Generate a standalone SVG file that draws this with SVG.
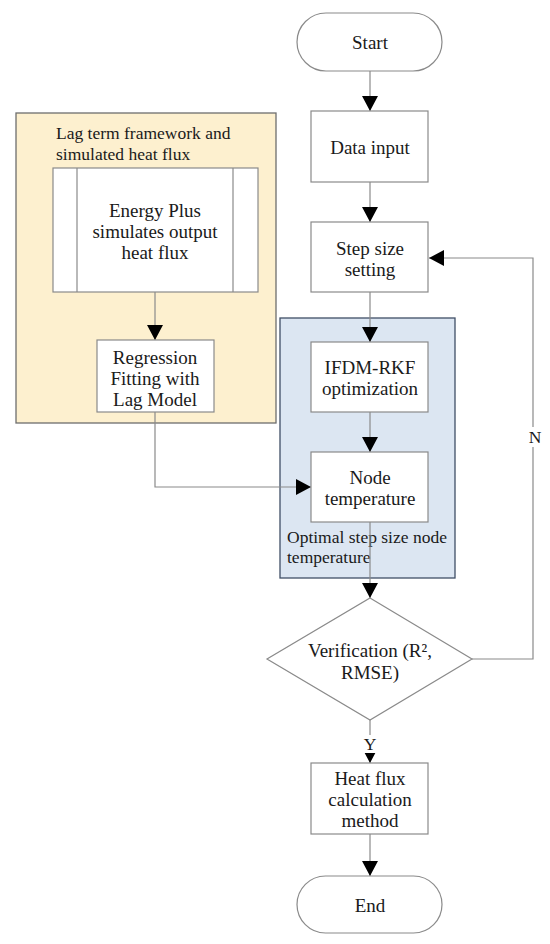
<svg xmlns="http://www.w3.org/2000/svg" width="550" height="944" viewBox="0 0 550 944">
<defs>
<style>
.box{fill:#fff;stroke:#8a8a8a;stroke-width:1.2}
.conn{fill:none;stroke:#8a8a8a;stroke-width:1.2}
.t{font-family:"Liberation Serif","Times New Roman",serif;font-size:19px;fill:#1a1a1a;text-anchor:middle;dominant-baseline:central}
.lbl{font-family:"Liberation Serif","Times New Roman",serif;font-size:17.5px;fill:#1a1a1a;dominant-baseline:central}
</style>
<marker id="ah" markerUnits="userSpaceOnUse" markerWidth="16" markerHeight="16" refX="15" refY="8" orient="auto">
<path d="M0,0 L15,8 L0,16 Z" fill="#000"/>
</marker>
</defs>
<rect width="550" height="944" fill="#fff"/>

<g id="group-lag">
<rect x="16" y="113" width="260" height="310" fill="#fdf0cf" stroke="#6e6e6e" stroke-width="1.3"/>
<text class="lbl" x="56" y="133">Lag term framework and</text>
<text class="lbl" x="56" y="154">simulated heat flux</text>
</g>
<g id="group-opt">
<rect x="280" y="318" width="175" height="260" fill="#dce6f2" stroke="#3f4f66" stroke-width="1.3"/>
<text class="lbl" x="287" y="537">Optimal step size node</text>
<text class="lbl" x="287" y="557">temperature</text>
</g>

<g id="connectors">
<line class="conn" x1="370" y1="71" x2="370" y2="111" marker-end="url(#ah)"/>
<line class="conn" x1="370" y1="182" x2="370" y2="222" marker-end="url(#ah)"/>
<line class="conn" x1="370" y1="292" x2="370" y2="342" marker-end="url(#ah)"/>
<line class="conn" x1="370" y1="412" x2="370" y2="452" marker-end="url(#ah)"/>
<line class="conn" x1="370" y1="522" x2="370" y2="598" marker-end="url(#ah)"/>
<line class="conn" x1="370" y1="720" x2="370" y2="763" marker-end="url(#ah)"/>
<line class="conn" x1="370" y1="834" x2="370" y2="876" marker-end="url(#ah)"/>
<line class="conn" x1="155" y1="292" x2="155" y2="340" marker-end="url(#ah)"/>
<polyline class="conn" points="155,412 155,487 311,487" marker-end="url(#ah)"/>
<polyline class="conn" points="472,659 533,659 533,258 429,258" marker-end="url(#ah)"/>
<rect x="526" y="427" width="16" height="20" fill="#fff"/>
<text class="lbl" x="535" y="437" text-anchor="middle">N</text>
<rect x="362" y="735" width="16" height="18" fill="#fff"/>
<text class="lbl" x="370" y="744" text-anchor="middle">Y</text>
</g>

<g id="start">
<rect class="box" x="297" y="13" width="145" height="58" rx="29" ry="29"/>
<text class="t" x="370" y="42">Start</text>
</g>
<g id="data-input">
<rect class="box" x="311" y="111" width="117" height="71"/>
<text class="t" x="370" y="147">Data input</text>
</g>
<g id="step-size">
<rect class="box" x="311" y="222" width="117" height="70"/>
<text class="t" x="370" y="248">Step size</text>
<text class="t" x="370" y="269">setting</text>
</g>
<g id="energy-plus">
<rect class="box" x="53" y="168" width="205" height="124"/>
<line class="conn" x1="77" y1="168" x2="77" y2="292"/>
<line class="conn" x1="233" y1="168" x2="233" y2="292"/>
<text class="t" x="155" y="210">Energy Plus</text>
<text class="t" x="155" y="231">simulates output</text>
<text class="t" x="155" y="252">heat flux</text>
</g>
<g id="regression">
<rect class="box" x="97" y="340" width="117" height="72"/>
<text class="t" x="155" y="357">Regression</text>
<text class="t" x="155" y="378">Fitting with</text>
<text class="t" x="155" y="399">Lag Model</text>
</g>
<g id="ifdm">
<rect class="box" x="311" y="342" width="117" height="70"/>
<text class="t" x="370" y="367">IFDM-RKF</text>
<text class="t" x="370" y="388">optimization</text>
</g>
<g id="node-temp">
<rect class="box" x="311" y="452" width="117" height="70"/>
<text class="t" x="370" y="477">Node</text>
<text class="t" x="370" y="498">temperature</text>
</g>
<g id="verification">
<polygon class="box" points="370,598 472,659 370,720 267,659"/>
<text class="t" x="370" y="650">Verification (R², </text>
<text class="t" x="370" y="672">RMSE)</text>
</g>
<g id="heat-flux">
<rect class="box" x="311" y="763" width="117" height="71"/>
<text class="t" x="370" y="778">Heat flux</text>
<text class="t" x="370" y="799">calculation</text>
<text class="t" x="370" y="820">method</text>
</g>
<g id="end">
<rect class="box" x="297" y="876" width="145" height="57" rx="28.5" ry="28.5"/>
<text class="t" x="370" y="905">End</text>
</g>
</svg>
